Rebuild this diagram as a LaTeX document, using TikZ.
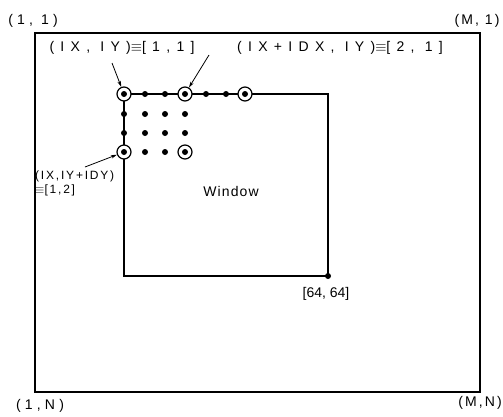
\documentclass[tikz,border=0pt]{standalone}
\usepackage{fontspec}
\setmainfont{Liberation Sans}
\newfontfamily\spwide{Liberation Sans}[LetterSpace=45]
\newfontfamily\spmid{Liberation Sans}[LetterSpace=30]
\newfontfamily\spsmall{Liberation Sans}[LetterSpace=15]
\newfontfamily\sptiny{Liberation Sans}[LetterSpace=8]
\usetikzlibrary{arrows.meta}
\begin{document}
\begin{tikzpicture}[x=1pt,y=1pt,
  lbl/.style={inner sep=0pt,font=\fontsize{14}{16}\selectfont},
  dotn/.style={circle,fill=black,inner sep=0pt,minimum size=6pt},
  ring/.style={circle,draw=black,fill=white,line width=1.2pt,inner sep=0pt,minimum size=14pt,
     path picture={\fill[black] (path picture bounding box.center) circle (3pt);}},
  ptr/.style={line width=0.8pt,-{Stealth[length=6pt,width=3.5pt]}},
  frame/.style={line width=1.2pt}]
\useasboundingbox (0,0) rectangle (503,-416);
% outer screen
\draw[frame] (35,-33) rectangle (480,-392);
% window
\draw[frame] (124,-94) -- (328,-94) -- (328,-276) -- (124,-276) -- cycle;
\node[dotn] (corner) at (328,-276) {};
% grid of points
\node[ring] (p11) at (124,-94) {};
\node[dotn] (p21) at (145,-94) {};
\node[dotn] (p31) at (165,-94) {};
\node[ring] (p41) at (185,-94) {};
\node[dotn] (p51) at (206,-94) {};
\node[dotn] (p61) at (226,-94) {};
\node[ring] (p71) at (245,-94) {};
\node[dotn] (p12) at (124,-114) {};
\node[dotn] (p22) at (145,-114) {};
\node[dotn] (p32) at (165,-114) {};
\node[dotn] (p42) at (185,-114) {};
\node[dotn] (p13) at (124,-133) {};
\node[dotn] (p23) at (145,-133) {};
\node[dotn] (p33) at (165,-133) {};
\node[dotn] (p43) at (185,-133) {};
\node[ring] (p14) at (124,-152) {};
\node[dotn] (p24) at (145,-152) {};
\node[dotn] (p34) at (165,-152) {};
\node[ring] (p44) at (185,-152) {};
% corner labels
\node[lbl,font=\fontsize{14}{16}\spmid] (tl) at (33,-21) {(1, 1)};
\node[lbl,font=\fontsize{14}{16}\spsmall] (tr) at (477,-21) {(M, 1)};
\node[lbl,font=\fontsize{14}{16}\spmid] (bl) at (40,-406) {(1,N)};
\node[lbl,font=\fontsize{14}{16}\spsmall] (br) at (480,-403) {(M,N)};
% annotations
\node[lbl,font=\fontsize{14}{16}\spwide] (la) at (122,-48) {(IX, IY)$\equiv$[1,1]};
\node[lbl,font=\fontsize{14}{16}\spwide] (lb) at (340,-48) {(IX+IDX, IY)$\equiv$[2, 1]};
\node[lbl,align=left,anchor=west,font=\fontsize{12}{14}\spsmall] (lc) at (35,-183) {(IX,IY+IDY)\\$\equiv$[1,2]};
\node[lbl,font=\fontsize{14}{16}\sptiny] (win) at (231,-191) {Window};
\node[lbl] (cc) at (326,-294) {[64, 64]};
% pointers
\coordinate (a1) at (112,-63);
\coordinate (a2) at (209,-55);
\coordinate (a3) at (85,-167);
\draw[ptr] (a1) -- (p11);
\draw[ptr] (a2) -- (p41);
\draw[ptr] (a3) -- (p14);
\end{tikzpicture}
\end{document}
